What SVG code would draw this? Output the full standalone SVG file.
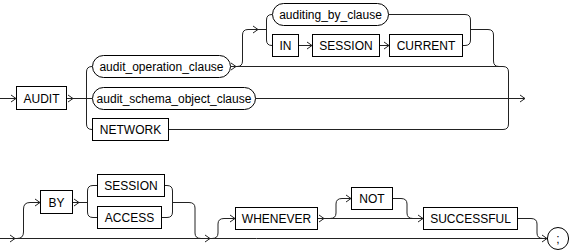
<svg xmlns="http://www.w3.org/2000/svg" xmlns:xlink="http://www.w3.org/1999/xlink" width="574" height="251" viewBox="0 0 574 251">
<style>
.box{fill:#fff;stroke:#000;stroke-width:1}
.ln{fill:none;stroke:#222;stroke-width:1}
.t{font-family:"Liberation Sans",Arial,sans-serif;font-size:12px;fill:#000;text-anchor:middle;dominant-baseline:central}
</style>
<defs>
<path id="ah" d="M-5,-3.5 L0,0 L-5,3.5" fill="none" stroke="#222" stroke-width="1"/>
</defs>
<rect width="574" height="251" fill="#fff"/>
<g id="connectors">
<path class="ln" d="M0,98.5 H16"/>
<path class="ln" d="M66.5,98.5 H92"/>
<path class="ln" d="M92,66.5 Q86.5,66.5 86.5,72 V124 Q86.5,129.5 92,129.5"/>
<path class="ln" d="M255.5,98.5 H525"/>
<path class="ln" d="M230.5,66.5 H503 Q508.5,66.5 508.5,72 V124 Q508.5,129.5 503,129.5 H168.5"/>
<path class="ln" d="M237,66.5 Q242.5,66.5 242.5,61 V35 Q242.5,29.5 248,29.5 H266.5"/>
<path class="ln" d="M272,14.5 Q266.5,14.5 266.5,20 V40 Q266.5,45.5 272,45.5"/>
<path class="ln" d="M298.5,45.5 H312"/>
<path class="ln" d="M379.5,45.5 H389"/>
<path class="ln" d="M388.5,14.5 H465 Q470.5,14.5 470.5,20 V40 Q470.5,45.5 465,45.5 H462.5"/>
<path class="ln" d="M470.5,29.5 H488 Q493.5,29.5 493.5,35 V61 Q493.5,66.5 499,66.5"/>
<path class="ln" d="M0,238.5 H547"/>
<path class="ln" d="M17,238.5 Q23.5,238.5 23.5,232 V209 Q23.5,202.5 30,202.5 H40"/>
<path class="ln" d="M72.5,202.5 H87.5"/>
<path class="ln" d="M97,185.5 H93 Q87.5,185.5 87.5,191 V212 Q87.5,217.5 93,217.5 H97"/>
<path class="ln" d="M164.5,185.5 H167 Q172.5,185.5 172.5,191 V212 Q172.5,217.5 167,217.5 H161.5"/>
<path class="ln" d="M172.5,202.5 H189 Q195,202.5 195,208 V233 Q195,238.5 201,238.5"/>
<path class="ln" d="M212,238.5 Q218,238.5 218,233 V224 Q218,218.5 224,218.5 H235"/>
<path class="ln" d="M317.5,218.5 H423"/>
<path class="ln" d="M330,218.5 Q336,218.5 336,213 V204 Q336,198.5 342,198.5 H351"/>
<path class="ln" d="M392.5,198.5 H401 Q407,198.5 407,204 V213 Q407,218.5 413,218.5"/>
<path class="ln" d="M517.5,218.5 H531 Q537,218.5 537,224 V233 Q537,238.5 543,238.5"/>
<use xlink:href="#ah" x="16" y="98.5"/>
<use xlink:href="#ah" x="73" y="98.5"/>
<use xlink:href="#ah" x="525" y="98.5"/>
<use xlink:href="#ah" x="236" y="66.5"/>
<use xlink:href="#ah" x="258" y="29.5"/>
<use xlink:href="#ah" x="312" y="45.5"/>
<use xlink:href="#ah" x="389" y="45.5"/>
<use xlink:href="#ah" x="15" y="238.5"/>
<use xlink:href="#ah" x="40" y="202.5"/>
<use xlink:href="#ah" x="79" y="202.5"/>
<use xlink:href="#ah" x="210" y="238.5"/>
<use xlink:href="#ah" x="235" y="218.5"/>
<use xlink:href="#ah" x="324" y="218.5"/>
<use xlink:href="#ah" x="351" y="198.5"/>
<use xlink:href="#ah" x="423" y="218.5"/>
<use xlink:href="#ah" x="547" y="238.5"/>
</g>
<g id="n_audit"><rect class="box" x="16.5" y="86.5" width="50" height="23"/><text class="t" x="41.5" y="98.5">AUDIT</text></g>
<g id="n_audit_operation_clause"><rect class="box" x="92.5" y="55.5" width="138" height="22" rx="11"/><text class="t" x="161.5" y="66.5">audit_operation_clause</text></g>
<g id="n_audit_schema_object_clause"><rect class="box" x="92.5" y="87.5" width="163" height="22" rx="11"/><text class="t" x="174" y="98.5">audit_schema_object_clause</text></g>
<g id="n_network"><rect class="box" x="92.5" y="118.5" width="76" height="22"/><text class="t" x="130.5" y="129.5">NETWORK</text></g>
<g id="n_auditing_by_clause"><rect class="box" x="272.5" y="3.5" width="116" height="22" rx="11"/><text class="t" x="330.5" y="14.5">auditing_by_clause</text></g>
<g id="n_in"><rect class="box" x="272.5" y="34.5" width="26" height="22"/><text class="t" x="285.5" y="45.5">IN</text></g>
<g id="n_session1"><rect class="box" x="312.5" y="34.5" width="67" height="22"/><text class="t" x="346" y="45.5">SESSION</text></g>
<g id="n_current"><rect class="box" x="389.5" y="34.5" width="73" height="22"/><text class="t" x="426" y="45.5">CURRENT</text></g>
<g id="n_by"><rect class="box" x="40.5" y="190.5" width="32" height="23"/><text class="t" x="56.5" y="202.5">BY</text></g>
<g id="n_session2"><rect class="box" x="97.5" y="174.5" width="67" height="22"/><text class="t" x="131" y="185.5">SESSION</text></g>
<g id="n_access"><rect class="box" x="97.5" y="206.5" width="64" height="22"/><text class="t" x="129.5" y="217.5">ACCESS</text></g>
<g id="n_whenever"><rect class="box" x="235.5" y="207.5" width="82" height="22"/><text class="t" x="276.5" y="218.5">WHENEVER</text></g>
<g id="n_not"><rect class="box" x="351.5" y="187.5" width="41" height="22"/><text class="t" x="372" y="198.5">NOT</text></g>
<g id="n_successful"><rect class="box" x="423.5" y="207.5" width="94" height="22"/><text class="t" x="470.5" y="218.5">SUCCESSFUL</text></g>
<g id="n_semicolon"><rect class="box" x="547.5" y="227.5" width="21" height="22" rx="10.5"/><text class="t" x="558" y="238.5">;</text></g>
</svg>
